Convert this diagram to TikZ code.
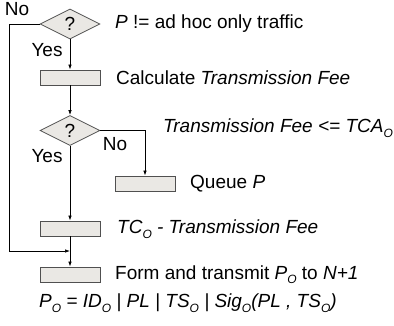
\documentclass[tikz,border=0pt]{standalone}
\usepackage{fontspec}
\setmainfont{Liberation Sans}
\usetikzlibrary{shapes.geometric,arrows.meta}
\definecolor{boxfill}{RGB}{234,232,228}
\definecolor{boxdraw}{RGB}{80,80,80}
\newcommand{\sbs}[1]{\raisebox{-0.45ex}{\fontsize{12}{12}\selectfont #1}}
\begin{document}
\begin{tikzpicture}[x=1pt,y=-1pt,
  font=\fontsize{19}{22}\selectfont,
  dia/.style={diamond,aspect=2,minimum width=60pt,minimum height=30pt,inner sep=0pt,draw=boxdraw,fill=boxfill,line width=0.8pt},
  stepbox/.style={rectangle,minimum width=60pt,minimum height=15pt,inner sep=0pt,draw=boxdraw,fill=boxfill,line width=0.8pt},
  lbl/.style={anchor=west,inner sep=0pt},
  arr/.style={-{Latex[length=5pt,width=3.5pt]},line width=0.7pt},
  ln/.style={line width=0.7pt}]
\useasboundingbox (0,0) rectangle (394,325);
\node[dia] (d1) at (70,24) {?};
\node[stepbox] (b1) at (70,77.5) {};
\node[dia] (d2) at (70,130.5) {?};
\node[stepbox] (q) at (145,183.5) {};
\node[stepbox] (b3) at (70,228.5) {};
\node[stepbox] (b4) at (70,274.5) {};
\coordinate (c1) at (9,251);
\coordinate (c2) at (70,251);
\draw[ln] (d1.west) -| (c1);
\draw[arr] (c1) -- (c2);
\draw[arr] (d1.south) -- (b1.north);
\draw[arr] (b1.south) -- (d2.north);
\draw[arr] (d2.east) -| (q.north);
\draw[arr] (d2.south) -- (b3.north);
\draw[arr] (b3.south) -- (b4.north);
\node (no1) at (17,9) {No};
\node (yes1) at (47,50) {Yes};
\node (yes2) at (47,156) {Yes};
\node (no2) at (115,144) {No};
\node[lbl] (t1) at (115,24) {\textit{P} != ad hoc only traffic};
\node[lbl] (t2) at (116,77.5) {Calculate \textit{Transmission Fee}};
\node[lbl] (t3) at (163,128) {\textit{Transmission Fee <= TCA\sbs{O}}};
\node[lbl] (t4) at (190,183.5) {Queue \textit{P}};
\node[lbl] (t5) at (117,229) {\textit{TC\sbs{O} - Transmission Fee}};
\node[lbl] (t6) at (115,274.5) {Form and transmit \textit{P\sbs{O}} to \textit{N+1}};
\node[lbl] (t7) at (39,303) {\textit{P\sbs{O} = ID\sbs{O} | PL | TS\sbs{O} | Sig\sbs{O}(PL , TS\sbs{O})}};
\end{tikzpicture}
\end{document}
